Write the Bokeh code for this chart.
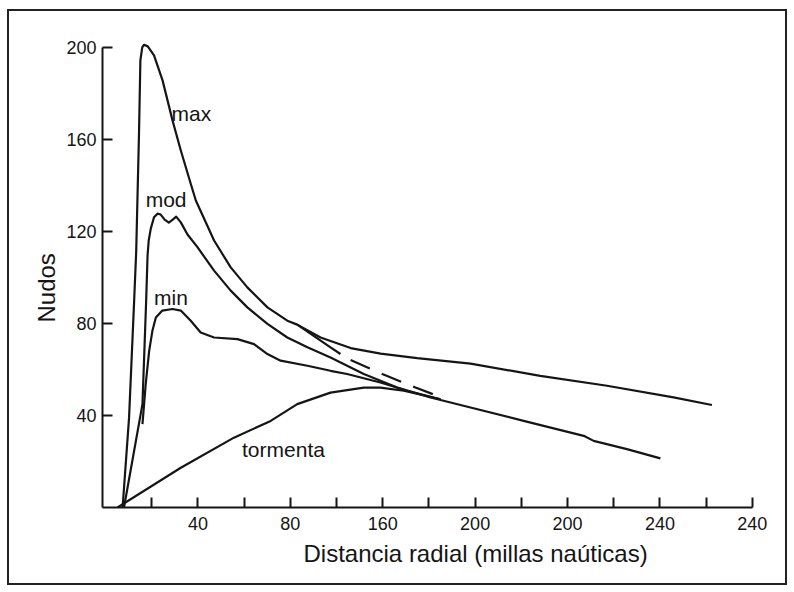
from bokeh.plotting import figure
from bokeh.models import Range1d, Title, FixedTicker
from bokeh.core.properties import value
from bokeh.embed import file_html
from bokeh.resources import INLINE

# ---- data ----
max_x = [7.4, 10.2, 12.4, 13.3, 14.5, 15.1, 15.9, 16.7, 18.3, 21.0, 24.7, 29.0, 32.6, 36.9, 39.1,
         47.0, 54.2, 61.4, 70.1, 78.7, 83.0, 93.1, 106.1, 119.1, 134.9, 158.0, 188.2, 217.1, 245.9, 262.5]
max_y = [0, 39.1, 90.0, 111.8, 162.8, 194.6, 200.3, 201.4, 200.7, 196.8, 185.9, 168.5, 155.4, 140.9, 133.6,
         116.2, 104.5, 95.8, 87.1, 81.3, 79.6, 74.0, 69.4, 67.0, 65.0, 62.6, 57.3, 53.0, 47.9, 44.6]

branch_x = [83.0, 97.4, 101.7]
branch_y = [79.6, 69.7, 66.8]
branch_dash_x = [106.1, 119.8, 134.2, 143.6]
branch_dash_y = [64.2, 58.1, 52.2, 48.6]

mod_x = [8.0, 16.0, 17.6, 18.2, 18.7, 19.6, 21.0, 22.5, 23.9, 25.6, 27.4, 29.1, 30.6, 32.6, 35.5, 39.8,
         47.0, 54.2, 61.4, 70.1, 78.7, 87.4, 97.4, 111.8, 126.3, 140.7, 158.0, 181.0, 207.0, 211.3, 225.7, 240.2]
mod_y = [0, 45.0, 90.0, 109.6, 116.2, 121.4, 126.3, 127.9, 127.5, 125.3, 124.0, 125.3, 126.6, 124.1, 118.8, 113.3,
         103.1, 94.4, 87.1, 79.9, 74.0, 69.7, 65.3, 58.1, 52.2, 47.9, 43.5, 37.7, 31.2, 29.0, 25.4, 21.4]

min_x = [16.0, 17.4, 18.9, 20.3, 21.8, 24.6, 29.0, 32.6, 36.9, 41.2, 47.0, 57.1, 64.3, 70.1, 75.8,
         87.4, 97.4, 104.6, 119.0, 130.6, 145.0]
min_y = [36.3, 53.7, 68.2, 76.9, 82.7, 85.7, 86.4, 85.7, 81.3, 76.2, 74.0, 73.3, 71.1, 66.8, 63.9,
         61.7, 59.5, 58.1, 54.4, 50.8, 47.1]

storm_x = [5.2, 32.6, 55.6, 71.5, 83.0, 97.4, 111.8, 119.0, 129.1, 145.0]
storm_y = [0, 17.3, 30.4, 37.7, 45.0, 50.0, 52.2, 52.2, 50.8, 47.1]

curve_labels = ["max", "mod", "min", "tormenta"]

x_tick_values = [20, 40, 60, 80, 100, 120, 140, 160, 180, 200, 220, 240, 260, 280]
x_tick_labels = ["", "40", "", "80", "", "160", "", "200", "", "200", "", "240", "", "240"]
y_tick_values = [40, 80, 120, 160, 200]
y_tick_labels = ["40", "80", "120", "160", "200"]

x_title = "Distancia radial (millas naúticas)"
y_title = "Nudos"

# ---- figure ----
FONT = "Liberation Sans"
INK = "#151515"

p = figure(width=780, height=576, output_backend="svg", toolbar_location=None,
           x_range=Range1d(-1.3, 280.5), y_range=Range1d(0, 205),
           min_border_left=93, min_border_right=36, min_border_top=25, min_border_bottom=80)
p.styles = {"border": "2px solid #222", "margin-left": "7px", "margin-top": "9px"}
p.outline_line_color = None
p.grid.visible = False
p.background_fill_color = "white"
p.border_fill_color = "white"

for ax in (p.xaxis[0], p.yaxis[0]):
    ax.axis_line_width = 2
    ax.axis_line_color = INK
    ax.major_tick_line_width = 2
    ax.major_tick_line_color = INK
    ax.major_tick_in = 10
    ax.major_tick_out = 0
    ax.minor_tick_line_color = None
    ax.major_label_text_font = FONT
    ax.major_label_text_font_size = "18px"
    ax.major_label_text_color = INK

xa = p.xaxis[0]
xa.ticker = FixedTicker(ticks=x_tick_values)
xa.major_label_overrides = {v: l for v, l in zip(x_tick_values, x_tick_labels)}
xa.bounds = (-1.3, 280)
xa.major_label_standoff = 9

ya = p.yaxis[0]
ya.ticker = FixedTicker(ticks=y_tick_values)
ya.major_label_overrides = {v: l for v, l in zip(y_tick_values, y_tick_labels)}
ya.bounds = (0, 200)
ya.major_label_standoff = 6

lw = 2.2
p.line(max_x, max_y, line_width=lw, color=INK, line_join="round")
p.line(branch_x, branch_y, line_width=lw, color=INK, line_join="round")
p.line(branch_dash_x, branch_dash_y, line_width=lw, color=INK, line_dash="21 13")
p.line(mod_x, mod_y, line_width=lw, color=INK, line_join="round")
p.line(min_x, min_y, line_width=lw, color=INK, line_join="round")
p.line(storm_x, storm_y, line_width=lw, color=INK, line_join="round")

p.text(x=[28.6, 17.4, 21.0, 59.1], y=[171.5, 134.0, 91.6, 25.4], text=curve_labels,
       text_font=value(FONT), text_font_size=value("21px"), text_color=INK,
       text_align="left", text_baseline="alphabetic")

p.add_layout(Title(text=x_title, align="left", offset=201, standoff=11,
                   text_font=FONT, text_font_size="24px", text_font_style="normal",
                   text_color=INK), "below")
p.add_layout(Title(text=y_title, align="left", offset=185, standoff=8,
                   text_font=FONT, text_font_size="24px", text_font_style="normal",
                   text_color=INK), "left")

open("out.html", "w").write(file_html(p, INLINE))
